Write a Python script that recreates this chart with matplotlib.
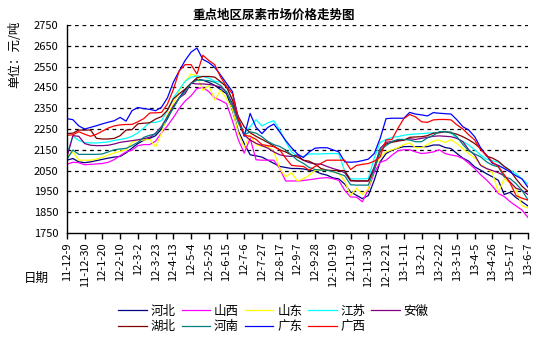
import matplotlib
matplotlib.use("Agg")
import matplotlib.pyplot as plt

plt.rcParams["font.family"] = ["Noto Sans CJK SC", "DejaVu Sans"]

# weekly prices, 11-12-9 .. 13-6-7 (79 weeks)
hebei = [2100, 2108, 2092, 2088, 2092, 2098, 2104, 2110, 2115, 2118,
         2135, 2158, 2180, 2196, 2205, 2218, 2250, 2300, 2355, 2400,
         2440, 2470, 2490, 2485, 2475, 2460, 2440, 2420, 2340, 2240,
         2180, 2126, 2121, 2115, 2100, 2085, 2070, 2065, 2060, 2060,
         2058, 2052, 2047, 2035, 2028, 2015, 2010, 1985, 1947, 1931,
         1915, 1930, 2003, 2092, 2132, 2148, 2158, 2165, 2166, 2165,
         2165, 2165, 2173, 2173, 2161, 2156, 2132, 2110, 2095, 2068,
         2052, 2035, 2020, 2003, 1935, 1945, 1920, 1900, 1880]
shanxi = [2080, 2090, 2088, 2078, 2080, 2082, 2084, 2090, 2103, 2122,
          2140, 2148, 2170, 2175, 2175, 2192, 2232, 2265, 2305, 2350,
          2385, 2410, 2445, 2450, 2430, 2400, 2388, 2372, 2290, 2198,
          2134, 2205, 2102, 2100, 2100, 2100, 2060, 2000, 2000, 2000,
          2002, 2006, 2010, 2014, 2016, 2011, 2003, 1955, 1923, 1922,
          1900, 1960, 2040, 2090, 2100, 2124, 2145, 2150, 2150, 2140,
          2132, 2135, 2140, 2150, 2132, 2125, 2120, 2108, 2085, 2060,
          2030, 2005, 1975, 1940, 1925, 1900, 1880, 1860, 1825]
shandong = [2115, 2140, 2100, 2100, 2100, 2105, 2114, 2125, 2135, 2143,
            2150, 2185, 2197, 2197, 2200, 2165, 2230, 2320, 2370, 2435,
            2480, 2515, 2505, 2436, 2460, 2390, 2436, 2396, 2345, 2230,
            2160, 2221, 2174, 2166, 2166, 2142, 2060, 2020, 2040, 2000,
            2010, 2028, 2050, 2055, 2052, 2045, 2035, 2000, 1930, 1965,
            1935, 1962, 2060, 2115, 2140, 2150, 2160, 2175, 2183, 2160,
            2160, 2175, 2192, 2197, 2185, 2200, 2180, 2155, 2132, 2110,
            2080, 2060, 2040, 1945, 2010, 1990, 1960, 1880, 1870]
jiangsu = [2130, 2215, 2195, 2185, 2183, 2183, 2185, 2188, 2195, 2200,
           2205, 2215, 2232, 2255, 2282, 2282, 2290, 2340, 2400, 2440,
           2480, 2500, 2505, 2503, 2495, 2480, 2475, 2460, 2390, 2300,
           2229, 2261, 2295, 2265, 2280, 2290, 2245, 2190, 2140, 2118,
           2118, 2130, 2130, 2130, 2132, 2132, 2132, 2047, 2010, 2010,
           2010, 2012, 2110, 2185, 2200, 2210, 2213, 2220, 2224, 2226,
           2228, 2230, 2232, 2234, 2237, 2230, 2205, 2190, 2173, 2150,
           2125, 2105, 2097, 2090, 2070, 2052, 2035, 2010, 1985]
anhui = [2115, 2218, 2215, 2180, 2172, 2170, 2170, 2172, 2178, 2186,
         2190, 2194, 2198, 2204, 2210, 2230, 2262, 2310, 2360, 2400,
         2420, 2470, 2467, 2467, 2465, 2460, 2452, 2428, 2372, 2293,
         2221, 2197, 2181, 2170, 2158, 2140, 2126, 2120, 2118, 2125,
         2100, 2088, 2082, 2081, 2070, 2060, 2052, 2040, 2000, 2000,
         2000, 2000, 2068, 2156, 2186, 2190, 2195, 2198, 2203, 2200,
         2205, 2210, 2215, 2217, 2215, 2213, 2205, 2189, 2150, 2125,
         2075, 2060, 2050, 2040, 2025, 1995, 1965, 1955, 1935]
hubei = [2228, 2230, 2245, 2245, 2245, 2205, 2202, 2202, 2205, 2218,
         2245, 2247, 2275, 2278, 2280, 2298, 2310, 2340, 2395, 2420,
         2442, 2470, 2497, 2503, 2503, 2500, 2478, 2452, 2390, 2310,
         2260, 2232, 2215, 2200, 2185, 2168, 2150, 2140, 2125, 2115,
         2100, 2095, 2080, 2060, 2052, 2050, 2050, 2050, 2003, 2000,
         2000, 2000, 2055, 2140, 2178, 2186, 2192, 2196, 2210, 2212,
         2213, 2218, 2230, 2232, 2237, 2232, 2225, 2213, 2198, 2180,
         2156, 2120, 2110, 2095, 2070, 2050, 2010, 1975, 1950]
henan = [2105, 2149, 2128, 2128, 2128, 2128, 2130, 2140, 2150, 2154,
         2157, 2170, 2186, 2210, 2220, 2226, 2258, 2306, 2350, 2400,
         2430, 2470, 2485, 2485, 2483, 2475, 2460, 2428, 2360, 2280,
         2222, 2237, 2230, 2213, 2190, 2175, 2166, 2150, 2125, 2100,
         2085, 2065, 2055, 2052, 2052, 2045, 2035, 2025, 1982, 1980,
         1980, 1980, 2052, 2148, 2170, 2190, 2200, 2200, 2197, 2189,
         2189, 2207, 2220, 2237, 2237, 2235, 2213, 2175, 2145, 2130,
         2116, 2092, 2076, 2068, 2019, 2011, 1987, 1955, 1910]
guangdong = [2300, 2295, 2265, 2250, 2258, 2266, 2275, 2283, 2290, 2306,
             2288, 2338, 2354, 2348, 2345, 2338, 2355, 2400, 2475, 2530,
             2580, 2620, 2640, 2585, 2570, 2547, 2510, 2470, 2430, 2300,
             2215, 2325, 2258, 2228, 2258, 2274, 2236, 2195, 2160, 2130,
             2113, 2140, 2158, 2160, 2160, 2150, 2140, 2092, 2090, 2092,
             2098, 2105, 2132, 2205, 2300, 2302, 2302, 2302, 2330, 2322,
             2318, 2313, 2329, 2326, 2324, 2322, 2294, 2261, 2245, 2213,
             2160, 2123, 2085, 2075, 2060, 2043, 2025, 2010, 1970]
guangxi = [2220, 2222, 2237, 2225, 2215, 2225, 2240, 2255, 2265, 2270,
           2272, 2272, 2285, 2300, 2327, 2328, 2330, 2370, 2440, 2530,
           2560, 2560, 2515, 2605, 2580, 2560, 2500, 2455, 2420, 2300,
           2220, 2215, 2200, 2175, 2170, 2165, 2150, 2110, 2075, 2072,
           2070, 2052, 2070, 2085, 2100, 2100, 2100, 2100, 2055, 2075,
           2080, 2084, 2095, 2116, 2197, 2200, 2253, 2300, 2320, 2308,
           2285, 2282, 2294, 2296, 2296, 2294, 2270, 2250, 2222, 2197,
           2150, 2125, 2090, 2070, 2030, 1990, 1930, 1917, 1908]

names = ["河北", "山西", "山东", "江苏", "安徽", "湖北", "河南", "广东", "广西"]
series = [hebei, shanxi, shandong, jiangsu, anhui, hubei, henan, guangdong, guangxi]
colors = ["#000080", "#FF00FF", "#FFFF00", "#00FFFF", "#800080",
          "#800000", "#008080", "#0000FF", "#FF0000"]

date_labels = ["11-12-9", "11-12-30", "12-1-20", "12-2-10", "12-3-2", "12-3-23",
               "12-4-13", "12-5-4", "12-5-25", "12-6-15", "12-7-6", "12-7-27",
               "12-8-17", "12-9-7", "12-9-28", "12-10-19", "12-11-9", "12-11-30",
               "12-12-21", "13-1-11", "13-2-1", "13-2-22", "13-3-15", "13-4-5",
               "13-4-26", "13-5-17", "13-6-7"]
y_ticks = [1750, 1850, 1950, 2050, 2150, 2250, 2350, 2450, 2550, 2650, 2750]

fig = plt.figure(figsize=(5.58, 3.40), dpi=100)
ax = fig.add_axes([0.120, 0.315, 0.826, 0.611])

weeks = list(range(len(hebei)))
lines = {}
for name, vals, c in zip(names, series, colors):
    lines[name], = ax.plot(weeks, vals, color=c, lw=0.9, label=name)

ax.set_xlim(0, len(weeks) - 1)
ax.set_ylim(1750, 2750)
ax.set_yticks(y_ticks)
ax.set_xticks(range(0, len(weeks), 3))
ax.set_xticklabels(date_labels, rotation=90, fontsize=8)
ax.tick_params(axis="y", length=0, pad=6, labelsize=8)
ax.tick_params(axis="x", length=4, width=1, direction="out", pad=3)

for v in y_ticks[1:]:
    ax.axhline(v, color="black", lw=0.9, ls=(0, (3, 3)), zorder=0)

for s in ["top", "right"]:
    ax.spines[s].set_visible(False)
for s in ["left", "bottom"]:
    ax.spines[s].set_linewidth(1.0)

fig.text(0.49, 0.955, "重点地区尿素市场价格走势图", ha="center", va="center",
         fontsize=9, fontweight="bold")
fig.text(0.026, 0.84, "单位：元/吨", rotation=90, ha="center", va="center", fontsize=9)
fig.text(0.066, 0.182, "日期", ha="center", va="center", fontsize=9)

order = ["河北", "湖北", "山西", "河南", "山东", "广东", "江苏", "广西", "安徽"]
fig.legend([lines[n] for n in order], order, ncol=5, loc="center",
           bbox_to_anchor=(0.49, 0.062), frameon=False, fontsize=9,
           handlelength=2.3, columnspacing=0.45, handletextpad=0.3,
           labelspacing=0.2)

fig.savefig("out.png", dpi=100)
plt.close(fig)
